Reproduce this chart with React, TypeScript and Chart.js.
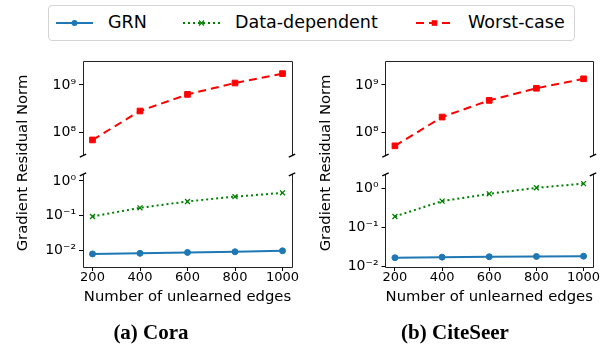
import React, { useEffect, useRef } from 'react';
import { Chart, registerables } from 'chart.js';

Chart.register(...registerables);

// ---------------- data ----------------
const edges = [200, 400, 600, 800, 1000];
const xTicks = [200, 400, 600, 800, 1000];
const xRange = [160, 1040];

const coraGRN = [0.0079, 0.0082, 0.0087, 0.0091, 0.0097];
const coraDataDep = [0.095, 0.168, 0.257, 0.353, 0.455];
const coraWorst = [6.8e7, 2.8e8, 6.3e8, 1.1e9, 1.74e9];

const citeGRN = [0.0164, 0.017, 0.0174, 0.0177, 0.018];
const citeDataDep = [0.192, 0.479, 0.74, 1.06, 1.36];
const citeWorst = [5.1e7, 2.08e8, 4.7e8, 8.5e8, 1.35e9];

const topTicks = [1e8, 1e9];
const bottomTicks = [1e-2, 1e-1, 1];
const topRange = [Math.pow(10, 7.5), Math.pow(10, 9.5)];
const coraBottomRange = [Math.pow(10, -2.48), Math.pow(10, 0.19)];
const citeBottomRange = [Math.pow(10, -2.025), Math.pow(10, 0.372)];

const seriesNames = ['GRN', 'Data-dependent', 'Worst-case'];
const captions = ['(a) Cora', '(b) CiteSeer'];
const xTitle = 'Number of unlearned edges';
const yTitle = 'Gradient Residual Norm';

// ---------------- styles ----------------
const FONT = '"DejaVu Sans", sans-serif';
const STYLE: Record<string, any> = {
  'GRN': { color: '#1f77b4', dash: [], pointStyle: 'circle', radius: 3, pbw: 1 },
  'Data-dependent': { color: '#008000', dash: [2, 3], pointStyle: 'crossRot', radius: 3.5, pbw: 1.3 },
  'Worst-case': { color: '#ff0000', dash: [8, 5], pointStyle: 'rect', radius: 4, pbw: 1 },
};

const SUP: Record<string, string> = { '-': '⁻', '0': '⁰', '1': '¹', '2': '²', '3': '³', '4': '⁴', '5': '⁵', '6': '⁶', '7': '⁷', '8': '⁸', '9': '⁹' };
const fmtPow = (v: number) => '10' + String(Math.round(Math.log10(v))).split('').map((c) => SUP[c] || c).join('');

function align(p: number, w: number) {
  const h = w / 2;
  return Math.round(p - h) + h;
}

function framePlugin(edge: 'top' | 'bottom') {
  return {
    id: 'frame',
    afterDraw(chart: any) {
      const { ctx, chartArea: a } = chart;
      const L = align(a.left, 1), R = align(a.right, 1), T = align(a.top, 1), B = align(a.bottom, 1);
      ctx.save();
      ctx.strokeStyle = '#222';
      ctx.lineWidth = 1;
      ctx.beginPath();
      if (edge === 'bottom') {
        ctx.moveTo(L, B); ctx.lineTo(L, T); ctx.lineTo(R, T); ctx.lineTo(R, B);
      } else {
        ctx.moveTo(L, T); ctx.lineTo(L, B); ctx.lineTo(R, B); ctx.lineTo(R, T);
      }
      ctx.stroke();
      const y = edge === 'bottom' ? a.bottom : a.top;
      ctx.lineWidth = 1.4;
      ctx.strokeStyle = '#000';
      ctx.beginPath();
      [a.left, a.right].forEach((x: number) => {
        ctx.moveTo(x - 3.2, y + 1.5);
        ctx.lineTo(x + 3.2, y - 1.5);
      });
      ctx.stroke();
      ctx.restore();
    },
  };
}

type PanelProps = {
  box: { x: number; y: number; w: number; h: number };
  pad: { left: number; top: number; right: number; bottom: number };
  yAxisWidth: number;
  showX: boolean;
  yRange: number[];
  yTicks: number[];
  series: { name: string; values: number[] }[];
  edge: 'top' | 'bottom';
};

function Panel(p: PanelProps) {
  const ref = useRef<HTMLCanvasElement | null>(null);
  useEffect(() => {
    if (!ref.current) return;
    const tickGrid = { display: true, drawOnChartArea: false, drawTicks: true, tickLength: 4, color: '#000', lineWidth: 1 };
    const chart = new Chart(ref.current, {
      type: 'line',
      data: {
        datasets: p.series.map((s) => {
          const st = STYLE[s.name];
          return {
            label: s.name,
            data: edges.map((x, i) => ({ x, y: s.values[i] })),
            borderColor: st.color,
            backgroundColor: st.color,
            borderWidth: 2,
            borderDash: st.dash,
            pointStyle: st.pointStyle,
            pointRadius: st.radius,
            pointBorderWidth: st.pbw,
            pointBackgroundColor: st.color,
            pointBorderColor: st.color,
            tension: 0,
            fill: false,
          };
        }),
      },
      options: {
        responsive: false,
        animation: false,
        devicePixelRatio: 1,
        events: [],
        layout: { padding: p.pad },
        plugins: { legend: { display: false }, tooltip: { enabled: false }, title: { display: false } },
        scales: {
          x: {
            type: 'linear',
            min: xRange[0],
            max: xRange[1],
            display: p.showX,
            afterBuildTicks: (s: any) => { s.ticks = xTicks.map((v) => ({ value: v })); },
            afterFit: (s: any) => { s.height = p.showX ? 46 : 0; },
            grid: tickGrid,
            border: { display: false },
            ticks: { color: '#000', font: { size: 13, family: FONT }, padding: -1, maxRotation: 0, autoSkip: false, callback: (v: any) => String(v) },
            title: { display: true, text: xTitle, color: '#000', font: { size: 14.8, family: FONT }, padding: { top: 0, bottom: 7 } },
          },
          y: {
            type: 'logarithmic',
            min: p.yRange[0],
            max: p.yRange[1],
            afterBuildTicks: (s: any) => { s.ticks = p.yTicks.map((v) => ({ value: v })); },
            afterFit: (s: any) => { s.width = p.yAxisWidth; },
            grid: tickGrid,
            border: { display: false },
            ticks: { color: '#000', font: { size: 14, family: FONT }, padding: 3, autoSkip: false, callback: (v: any) => fmtPow(Number(v)) },
          },
        },
      } as any,
      plugins: [framePlugin(p.edge)],
    } as any);
    return () => chart.destroy();
  }, []);
  return (
    <canvas
      ref={ref}
      width={p.box.w}
      height={p.box.h}
      style={{ position: 'absolute', left: p.box.x, top: p.box.y, width: p.box.w, height: p.box.h }}
    />
  );
}

function LegendHandle({ name, x }: { name: string; x: number }) {
  const st = STYLE[name];
  const w = 37, cy = 7, cx = w / 2;
  let marker: any = null;
  if (st.pointStyle === 'circle') marker = <circle cx={cx} cy={cy} r={3} fill={st.color} />;
  else if (st.pointStyle === 'rect') marker = <rect x={cx - 2.8} y={cy - 2.8} width={5.6} height={5.6} fill={st.color} />;
  else marker = (
    <g stroke={st.color} strokeWidth={1.3}>
      <line x1={cx - 2.5} y1={cy - 2.5} x2={cx + 2.5} y2={cy + 2.5} />
      <line x1={cx - 2.5} y1={cy + 2.5} x2={cx + 2.5} y2={cy - 2.5} />
    </g>
  );
  return (
    <svg width={w} height={14} style={{ position: 'absolute', left: x, top: 16 }}>
      <line x1={0} y1={cy} x2={w} y2={cy} stroke={st.color} strokeWidth={2} strokeDasharray={st.dash.length ? st.dash.join(' ') : undefined} />
      {marker}
    </svg>
  );
}

export default function App() {
  const leftSeriesTop = [{ name: 'Worst-case', values: coraWorst }];
  const leftSeriesBot = [{ name: 'GRN', values: coraGRN }, { name: 'Data-dependent', values: coraDataDep }];
  const rightSeriesTop = [{ name: 'Worst-case', values: citeWorst }];
  const rightSeriesBot = [{ name: 'GRN', values: citeGRN }, { name: 'Data-dependent', values: citeDataDep }];

  const legendHandleX = [56, 183, 416];
  const legendTextX = [108, 235, 468];
  const yTitleX = [22, 325];
  const captionX = [151, 455];

  return (
    <div style={{ position: 'absolute', left: 0, top: 0, width: 616, height: 353, background: '#fff', overflow: 'hidden', fontFamily: FONT }}>
      <Panel box={{ x: 0, y: 50, w: 308, h: 117 }} pad={{ left: 0, top: 10, right: 16, bottom: 10 }} yAxisWidth={83} showX={false} yRange={topRange} yTicks={topTicks} series={leftSeriesTop} edge="bottom" />
      <Panel box={{ x: 0, y: 163, w: 308, h: 150 }} pad={{ left: 0, top: 7, right: 16, bottom: 0 }} yAxisWidth={83} showX={true} yRange={coraBottomRange} yTicks={bottomTicks} series={leftSeriesBot} edge="top" />
      <Panel box={{ x: 308, y: 50, w: 308, h: 117 }} pad={{ left: 0, top: 10, right: 23, bottom: 10 }} yAxisWidth={77.5} showX={false} yRange={topRange} yTicks={topTicks} series={rightSeriesTop} edge="bottom" />
      <Panel box={{ x: 308, y: 163, w: 308, h: 150 }} pad={{ left: 0, top: 7, right: 23, bottom: 0 }} yAxisWidth={77.5} showX={true} yRange={citeBottomRange} yTicks={bottomTicks} series={rightSeriesBot} edge="top" />

      {/* legend */}
      <div style={{ position: 'absolute', left: 48, top: 5, width: 527, height: 36, border: '1px solid #d4d4d4', borderRadius: 4, boxSizing: 'border-box', background: 'rgba(255,255,255,0.8)' }} />
      {seriesNames.map((n, i) => (
        <React.Fragment key={n}>
          <LegendHandle name={n} x={legendHandleX[i]} />
          <div style={{ position: 'absolute', left: legendTextX[i], top: 12, height: 21, lineHeight: '21px', fontSize: 17.5, color: '#000', whiteSpace: 'nowrap' }}>{n}</div>
        </React.Fragment>
      ))}

      {/* y titles */}
      {yTitleX.map((x, i) => (
        <div key={i} style={{ position: 'absolute', left: x - 110, top: 163 - 10, width: 220, height: 20, lineHeight: '20px', textAlign: 'center', fontSize: 14.8, color: '#000', transform: 'rotate(-90deg)', whiteSpace: 'nowrap' }}>{yTitle}</div>
      ))}

      {/* captions */}
      {captions.map((c, i) => (
        <div key={c} style={{ position: 'absolute', left: captionX[i] - 100, top: 319, width: 200, height: 26, lineHeight: '26px', textAlign: 'center', fontFamily: '"Liberation Serif", serif', fontWeight: 'bold', fontSize: 21, color: '#000', whiteSpace: 'nowrap' }}>{c}</div>
      ))}
    </div>
  );
}
